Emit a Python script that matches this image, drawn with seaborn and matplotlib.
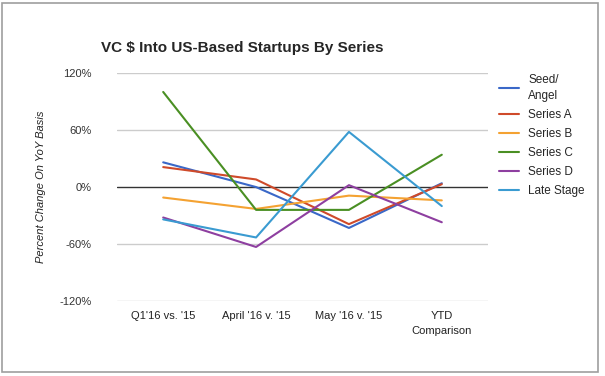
import pandas as pd
import seaborn as sns
import matplotlib.pyplot as plt
from matplotlib.patches import Rectangle

# data (percent change YoY)
periods = ["Q1'16 vs. '15", "April '16 v. '15", "May '16 v. '15", "YTD\nComparison"]
series_names = ["Seed/\nAngel", "Series A", "Series B", "Series C", "Series D", "Late Stage"]
seed_angel = [26, 0, -43, 4]
series_a = [21, 8, -39, 3]
series_b = [-11, -23, -9, -14]
series_c = [100, -24, -24, 34]
series_d = [-32, -63, 2, -37]
late_stage = [-34, -53, 58, -20]

colors = ["#3a68c8", "#cf4a2a", "#f4a232", "#4a8f23", "#8e3fa0", "#3a9bd1"]

rows = []
for name, vals in zip(series_names, [seed_angel, series_a, series_b, series_c, series_d, late_stage]):
    for p, v in zip(periods, vals):
        rows.append({"period": p, "series": name, "value": v})
df = pd.DataFrame(rows)

sns.set_style("white")
plt.rcParams['font.family'] = ['Liberation Sans', 'DejaVu Sans']

fig = plt.figure(figsize=(6.05, 3.76), dpi=100)
fig.patches.append(Rectangle((0.004, 0.01), 0.984, 0.982, transform=fig.transFigure,
                             fill=False, edgecolor="#9e9e9e", linewidth=1.2))
ax = fig.add_axes([0.193, 0.199, 0.614, 0.607])

sns.lineplot(data=df, x="period", y="value", hue="series", hue_order=series_names,
             palette=colors, linewidth=1.5, sort=False, ax=ax)

ax.set_xlim(-0.5, 3.5)
ax.set_ylim(-120, 120)
ax.set_yticks([-120, -60, 0, 60, 120])
ax.set_yticklabels(["-120%", "-60%", "0%", "60%", "120%"], fontsize=8, color="#333333")
ax.tick_params(axis="x", labelsize=8, labelcolor="#222222", length=0, pad=7)
for lbl in ax.get_xticklabels():
    lbl.set_linespacing(1.7)
ax.tick_params(axis="y", length=0, pad=18)
for y in [-120, -60, 60, 120]:
    ax.axhline(y, color="#cccccc", linewidth=1, zorder=0)
ax.axhline(0, color="#333333", linewidth=1, zorder=1)
for s in ax.spines.values():
    s.set_visible(False)

ax.set_xlabel("")
ax.set_ylabel("Percent Change On YoY Basis", fontsize=8, style="italic", color="#222222", labelpad=10)
fig.text(0.167, 0.872, "VC $ Into US-Based Startups By Series", fontsize=11, fontweight="bold",
         ha="left", va="center")

leg = ax.legend(loc="upper left", bbox_to_anchor=(1.0, 1.04), frameon=False, fontsize=8.5,
                handlelength=1.7, handletextpad=0.8, labelspacing=0.6, title=None)
for t in leg.get_texts():
    t.set_linespacing(1.35)

fig.savefig("out.png", dpi=100, facecolor="white")
